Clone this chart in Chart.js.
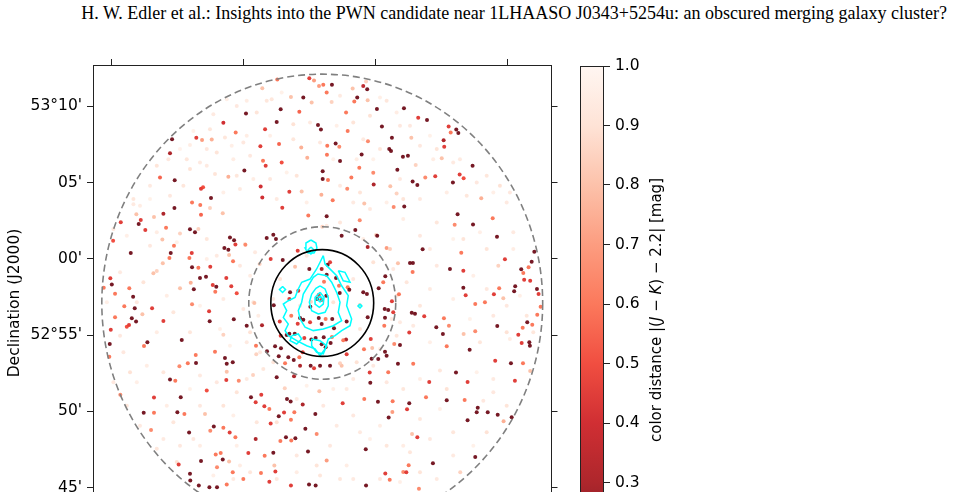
<!DOCTYPE html>
<html>
<head>
<meta charset="utf-8">
<script src="https://cdn.jsdelivr.net/npm/chart.js@4.4.0/dist/chart.umd.min.js"></script>
<style>
    html, body { margin: 0; padding: 0; width: 956px; height: 492px; overflow: hidden; background: #fff; }
    #header { position: absolute; right: 9px; top: 3px; font-family: 'Liberation Serif', 'Times New Roman', serif; font-size: 18px; white-space: nowrap; color: #000; }
    #sky { position: absolute; left: 0; top: 0; }
    #cbar { position: absolute; left: 560px; top: 0; }
    #cbar-label { position: absolute; left: 656px; top: 310px; transform: translate(-50%, -50%) rotate(-90deg); font-family: 'DejaVu Sans', sans-serif; font-size: 15px; white-space: nowrap; color: #000; }
</style>
</head>
<body>
<div id="header">H. W. Edler et al.: Insights into the PWN candidate near 1LHAASO J0343+5254u: an obscured merging galaxy cluster?</div>
<canvas id="sky" width="570" height="560"></canvas>
<canvas id="cbar" width="130" height="560"></canvas>
<div id="cbar-label">color distance |(<i>J</i> − <i>K</i>) − 2.2| [mag]</div>
<script>
// sky offsets: RA offset in arcmin (on sky), Dec in arcmin above 52°00'
const fieldCenter = [0, 57.1];
const fieldHalfWidth = 15.6;
const apertureRadii = [15, 5, 3.5]; // arcmin

const decTicks = [45, 50, 55, 60, 65, 70];
const decTickLabels = ["45'", "50'", "52°55'", "00'", "05'", "53°10'"];
const raTicks = [-14.35, -5.37, 3.61, 12.59];
const cbTicks = [0.2, 0.3, 0.4, 0.5, 0.6, 0.7, 0.8, 0.9, 1.0];
const cMin = 0.2, cMax = 1.0;

// [RA offset, Dec, colour distance]
const brightStars = [
    [-0.88,71.83,0.45],[-1.29,70.57,0.15],[-2.83,69.80,0.15],[-5.19,69.52,0.15],[-3.10,68.97,0.15],[-6.73,68.91,0.40],[-3.89,68.49,0.45],[-1.56,69.63,0.55],[-0.29,68.76,0.15],[-0.09,68.48,0.15],
    [-5.89,68.28,0.60],[-10.22,67.84,0.15],[-8.57,67.93,0.45],[-8.18,67.79,0.70],[-7.52,67.82,0.75],[-10.36,66.92,0.30],[-4.21,67.38,0.45],[-2.94,67.53,0.55],[-1.43,67.30,0.75],[0.34,67.40,0.60],
    [-4.03,66.42,0.60],[-3.85,66.09,0.45],[-2.76,66.31,0.50],[-1.02,66.62,0.75],[-5.30,65.79,0.15],[0.03,65.74,0.15],[0.03,65.22,0.15],[-11.04,65.33,0.55],[-10.04,65.14,0.15],[-8.25,64.59,0.45],
    [-8.11,64.68,0.50],[-4.19,64.74,0.40],[-2.24,64.39,0.45],[-4.08,64.02,0.40],[-7.57,63.98,0.15],[-8.86,63.69,0.60],[-8.30,63.52,0.60],[-10.06,63.32,0.15],[-2.72,63.34,0.45],[-0.06,64.19,0.75],
    [-1.40,64.41,0.80],[-2.13,70.61,0.80],[-4.08,71.18,0.80],[-3.06,71.75,0.60],[-0.56,71.68,0.70],[-0.22,71.33,0.70],[0.30,70.90,0.60],[-0.72,70.24,0.80],[-6.39,65.37,0.75],[0.32,66.81,0.60],
    [0.07,71.40,0.60],[0.66,71.40,0.15],[2.07,71.16,0.80],[2.79,71.33,0.35],[3.06,71.11,0.15],[2.98,71.62,0.85],[2.38,70.57,0.15],[2.18,70.31,0.60],[0.64,70.28,0.85],[3.09,70.39,0.80],
    [1.62,69.59,0.60],[3.72,69.82,0.15],[5.56,69.87,0.15],[6.53,69.24,0.45],[7.13,69.10,0.15],[4.06,68.67,0.15],[1.73,68.38,0.60],[8.60,68.67,0.45],[8.74,68.28,0.60],[9.12,68.48,0.15],
    [9.26,68.25,0.15],[4.74,67.93,0.15],[3.11,67.71,0.65],[6.06,67.93,0.80],[0.91,67.56,0.15],[1.16,67.34,0.65],[8.26,67.76,0.30],[8.30,67.34,0.45],[4.56,67.19,0.15],[4.68,67.07,0.15],
    [2.68,66.84,0.15],[5.49,66.68,0.15],[5.83,66.75,0.15],[1.21,66.40,0.15],[8.13,66.58,0.80],[6.36,66.14,0.85],[10.23,66.09,0.15],[5.11,65.83,0.15],[2.52,65.96,0.60],[3.47,65.63,0.65],
    [9.35,65.53,0.45],[7.69,65.40,0.45],[9.62,65.27,0.50],[7.01,65.33,0.65],[1.98,65.33,0.60],[0.39,65.17,0.60],[6.15,65.07,0.15],[8.89,65.00,0.15],[6.47,64.83,0.15],[3.50,64.87,0.30],
    [1.70,64.59,0.65],[4.63,64.76,0.80],[10.82,63.96,0.75],[0.71,63.83,0.60],[5.06,64.28,0.85],[2.86,63.63,0.80],[5.58,63.43,0.15],[4.86,63.39,0.65],
    [-7.64,63.32,0.85],[-13.71,62.40,0.45],[-12.65,62.91,0.80],[-12.35,62.54,0.45],[-12.49,62.27,0.15],[-11.45,62.73,0.80],[-10.81,62.95,0.30],[-12.04,61.88,0.45],[-10.63,62.03,0.60],[-8.25,62.88,0.55],
    [-6.77,62.99,0.80],[-9.00,61.93,0.15],[-8.66,61.73,0.15],[-8.43,61.95,0.85],[-9.68,61.66,0.85],[-6.28,61.40,0.15],[-6.00,61.21,0.15],[-5.91,60.94,0.45],[-6.66,60.70,0.15],[-6.39,60.59,0.15],
    [-6.34,60.24,0.80],[-5.23,60.92,0.65],[-14.23,61.18,0.50],[-13.03,60.37,0.15],[-10.31,60.37,0.15],[-8.88,60.37,0.45],[-10.40,60.05,0.60],[-9.04,60.05,0.60],[-6.07,59.83,0.60],[-10.85,59.70,0.80],
    [-10.09,60.85,0.60],[-10.88,61.27,0.80],[-8.86,59.44,0.15],[-8.43,59.41,0.60],[-7.62,59.48,0.45],[-11.26,59.20,0.85],[-11.49,59.05,0.80],[-7.91,58.82,0.15],[-8.32,58.74,0.15],[-6.53,58.74,0.45],
    [-8.95,58.43,0.75],[-14.42,58.72,0.45],[-14.32,58.32,0.15],[-14.87,58.10,0.60],[-13.13,58.06,0.60],[-14.10,57.71,0.60],[-12.87,57.51,0.15],[-9.68,58.06,0.80],[-8.74,58.00,0.15],[-7.45,58.28,0.45],
    [-7.21,58.17,0.15],[-7.28,57.84,0.60],[-6.19,58.19,0.45],[-5.82,57.74,0.50],[-13.47,56.88,0.60],[-12.76,56.75,0.15],[-11.58,56.75,0.45],[-12.24,56.36,0.80],[-14.10,56.16,0.60],[-12.96,56.10,0.15],
    [-12.67,55.88,0.15],[-13.15,55.66,0.45],[-13.30,55.55,0.50],[-10.81,55.92,0.45],[-8.86,57.01,0.65],[-7.70,56.56,0.45],[-7.66,55.90,0.15],[-6.02,56.03,0.15],[-5.14,55.61,0.15],[-4.10,55.64,0.30],
    [-4.62,57.10,0.80],[-14.39,55.35,0.45],[-14.46,54.41,0.15],[-11.90,54.53,0.15],[-12.13,54.28,0.60],[-9.56,54.68,0.15],[-6.73,55.02,0.85],[-3.78,61.36,0.15],[-3.33,61.57,0.15],[-3.15,61.29,0.15],
    [-0.95,62.84,0.60],[0.30,62.78,0.15],[-2.69,59.92,0.15],[-3.51,59.98,0.45],[-4.26,59.65,0.85],[-1.85,59.48,0.80],[-1.67,60.53,0.45],
    [-0.88,59.33,0.15],[0.37,59.61,0.15],[0.53,59.77,0.45],[-0.04,59.33,0.30],[0.30,58.95,0.15],[0.12,58.49,0.60],[0.94,58.74,0.15],[1.14,58.23,0.60],[1.73,58.13,0.60],[1.84,57.97,0.15],
    [1.19,57.75,0.15],[-0.24,57.62,0.45],[-0.34,57.36,0.15],[-0.06,57.30,0.45],[0.28,57.58,0.15],[-0.77,57.19,0.85],[-1.63,57.91,0.45],[-2.19,57.80,0.15],[-2.24,57.36,0.45],[-3.30,56.95,0.15],
    [-0.81,56.86,0.15],[-2.11,56.27,0.60],[-1.51,56.12,0.15],[-1.29,56.01,0.15],[-1.67,55.74,0.45],[-0.83,55.84,0.45],[-0.24,56.12,0.15],[-0.04,55.72,0.15],[0.23,56.05,0.60],[0.68,56.05,0.15],
    [1.66,55.88,0.15],[0.80,55.44,0.15],[-2.24,55.09,0.15],[-1.87,55.09,0.15],[-1.22,54.81,0.45],[-0.74,54.70,0.15],[-0.45,54.81,0.15],[0.10,54.85,0.15],[0.66,54.87,0.60],[-0.04,54.40,0.15],
    [0.23,54.20,0.15],[0.57,54.48,0.15],[1.62,54.70,0.30],[2.79,57.80,0.15],[3.04,57.69,0.15],[2.55,56.97,0.85],[3.09,56.16,0.15],[3.30,54.74,0.45],[-2.89,55.88,0.45],[-2.83,54.96,0.45],
    [-2.42,55.00,0.15],[-1.33,53.87,0.45],[-0.79,52.99,0.15],[-0.56,52.82,0.45],[-1.51,52.99,0.30],[0.53,52.99,0.15],[-0.15,52.99,0.15],[1.32,52.99,0.80],[3.81,53.43,0.15],[2.25,61.88,0.15],
    [1.32,61.51,0.15],[0.00,62.10,0.85],[3.09,60.77,0.30],[3.66,61.55,0.85],[4.38,60.70,0.70],[4.29,58.85,0.15],[4.15,58.46,0.60],[3.84,58.06,0.15],[4.25,56.71,0.15],[4.49,56.64,0.15],
    [4.83,56.49,0.45],[4.22,55.61,0.60],[4.90,54.41,0.65],[4.27,53.91,0.15],[3.40,54.15,0.80],[-4.51,54.30,0.60],[-3.21,54.26,0.15],[-2.81,54.13,0.15],[-2.31,53.54,0.15],[-2.53,53.15,0.60],
    [4.38,53.65,0.15],
    [9.21,62.91,0.15],[9.01,62.23,0.65],[10.26,62.25,0.15],[11.60,62.65,0.60],[11.89,61.44,0.15],[2.55,62.52,0.65],[3.74,61.51,0.15],[6.83,60.62,0.15],[4.61,60.64,0.85],[9.46,60.39,0.60],
    [12.43,59.96,0.45],[14.43,60.46,0.15],[14.25,59.80,0.15],[14.04,59.44,0.60],[13.54,59.31,0.15],[13.68,59.06,0.60],[5.97,59.72,0.15],[6.17,59.72,0.15],[6.15,59.13,0.60],[5.15,59.70,0.80],
    [8.69,59.33,0.15],[9.60,59.22,0.45],[11.98,59.54,0.85],[13.74,58.63,0.45],[14.15,58.56,0.45],[13.13,58.19,0.15],[13.06,57.87,0.15],[14.61,58.02,0.15],[14.72,57.69,0.45],[12.04,58.06,0.60],
    [11.68,57.67,0.45],[9.60,58.10,0.15],[9.76,57.60,0.45],[12.32,57.41,0.80],[5.22,57.67,0.60],[4.74,57.21,0.45],[4.27,56.14,0.15],[6.09,56.46,0.15],[6.31,56.40,0.15],[6.94,56.23,0.45],
    [10.41,57.03,0.60],[11.07,57.15,0.60],[14.86,56.86,0.60],[14.63,56.33,0.60],[7.76,55.51,0.15],[8.28,56.10,0.60],[8.62,55.61,0.65],[5.92,55.16,0.45],[8.21,55.07,0.15],[9.62,55.07,0.80],
    [10.41,55.25,0.65],[11.91,55.59,0.15],[13.64,55.48,0.60],[13.95,55.84,0.15],[14.29,55.68,0.60],[13.34,55.02,0.45],[13.57,54.48,0.45],[14.09,54.53,0.15],[14.13,54.30,0.15],[5.29,54.35,0.15],
    [8.47,54.26,0.60],
    [-14.49,53.58,0.60],[-8.61,53.69,0.60],[-7.30,53.91,0.60],[-9.15,53.15,0.60],[-8.59,53.17,0.15],[-9.72,52.95,0.65],[-6.62,53.50,0.15],[-6.50,53.11,0.15],[-6.09,53.22,0.15],[-6.50,52.60,0.80],
    [-6.53,52.06,0.45],[-5.68,52.01,0.65],[-10.36,52.08,0.15],[-10.00,52.01,0.60],[-7.86,51.36,0.50],[-11.45,50.90,0.45],[-9.63,50.92,0.15],[-13.74,51.09,0.65],[-12.15,49.90,0.15],[-11.45,49.90,0.60],
    [-9.86,49.94,0.15],[-9.38,49.83,0.60],[-7.98,49.83,0.80],[-11.65,48.78,0.65],[-9.06,48.61,0.15],[-7.38,49.00,0.15],[-6.73,48.93,0.60],[-6.30,48.61,0.45],[-5.91,48.30,0.60],[-7.62,48.72,0.65],
    [-9.77,46.51,0.45],[-8.25,46.75,0.15],[-9.00,45.90,0.15],[-8.98,45.46,0.15],[-7.25,47.17,0.60],[-6.77,46.84,0.15],[-6.91,47.26,0.60],[-7.16,46.34,0.65],[-6.34,46.71,0.80],[-6.09,46.01,0.60],
    [-8.40,45.14,0.15],[-7.68,45.03,0.15],[-7.16,45.03,0.15],[-6.50,45.20,0.60],[-5.37,45.57,0.60],[-5.03,47.26,0.45],[-4.53,48.19,0.30],[-4.85,50.92,0.15],[-4.53,50.60,0.45],[-4.15,51.08,0.45],
    [-3.94,50.34,0.45],[-3.60,50.16,0.60],[-2.96,49.68,0.15],[-2.60,49.92,0.45],[-2.40,50.81,0.15],[-2.15,50.64,0.15],[-1.90,49.94,0.60],[-1.33,50.44,0.30],[-0.47,49.83,0.15],[-3.51,49.20,0.45],
    [-2.13,49.44,0.60],[-1.15,48.85,0.15],[-0.38,48.52,0.65],[-2.47,48.30,0.15],[-2.11,48.08,0.60],[-1.83,48.24,0.15],[-2.85,48.06,0.60],[-3.92,47.08,0.60],[-3.33,47.28,0.15],[-4.17,45.95,0.60],
    [-3.26,46.45,0.80],[-3.19,46.05,0.45],[-3.60,45.38,0.45],[-0.97,47.36,0.15],[0.30,46.77,0.70],[-2.13,45.14,0.45],[-0.90,45.20,0.15],[-0.45,45.14,0.15],[-2.96,53.61,0.15],[-1.94,53.37,0.15],
    [-3.76,53.94,0.15],[-3.10,52.23,0.15],[-1.92,52.30,0.30],[-1.56,53.54,0.60],[-0.20,51.32,0.80],[-4.49,53.74,0.85],[-4.71,52.38,0.85],[-2.55,51.51,0.85],
    [1.43,54.66,0.60],[1.66,53.74,0.45],[2.84,54.07,0.60],[3.36,53.45,0.15],[10.03,54.04,0.15],[5.15,53.11,0.15],[6.19,53.11,0.60],[3.23,52.54,0.45],[3.27,51.88,0.15],[4.49,52.56,0.60],
    [1.21,53.15,0.85],[9.10,52.54,0.15],[7.28,51.93,0.45],[9.89,51.93,0.45],[11.77,53.32,0.45],[12.84,53.15,0.15],[13.66,53.15,0.60],[14.15,52.65,0.80],[13.11,52.01,0.45],[1.39,50.53,0.45],
    [2.86,50.81,0.60],[3.79,50.62,0.15],[4.79,50.66,0.60],[5.92,50.53,0.15],[5.77,50.14,0.45],[4.77,49.96,0.70],[4.52,49.59,0.15],[7.06,50.92,0.60],[8.47,50.73,0.15],[9.69,50.75,0.60],
    [10.58,50.24,0.15],[10.51,49.94,0.15],[11.26,49.94,0.15],[11.94,49.77,0.15],[12.89,49.61,0.15],[12.34,49.35,0.75],[9.89,49.42,0.15],[6.47,48.30,0.45],[6.11,48.52,0.80],[2.96,47.52,0.15],
    [10.41,47.00,0.15],[7.53,46.60,0.15],[5.88,46.47,0.60],[4.29,45.92,0.45],[5.51,46.03,0.65],[5.72,46.01,0.45],[4.59,45.51,0.60],[6.58,44.92,0.65],[2.98,45.14,0.15],[9.39,46.01,0.85]
];

// stars with colour distance close to 1 (very pale)
const faintStars = [
    [-5.14,70.35,0.95],[-3.44,70.46,0.92],[-2.76,70.90,0.97],[-5.82,70.02,0.93],[-6.50,70.46,0.96],[-4.46,69.59,0.91],[-7.41,69.48,0.94],[-8.77,68.38,0.97],[-6.62,67.95,0.92],[-9.00,67.45,0.95],
    [-7.86,67.19,0.93],[-6.16,67.40,0.96],[-9.68,67.19,0.98],[-9.22,66.53,0.92],[-8.32,66.31,0.94],[-7.30,65.55,0.91],[-6.05,66.53,0.95],[-4.91,66.75,0.93],[-3.55,68.06,0.96],[-1.97,67.84,0.92],
    [-0.83,68.93,0.94],[-2.42,65.66,0.97],[-3.55,65.22,0.93],[-4.69,65.22,0.95],[-1.74,65.44,0.91],[-5.60,64.57,0.94],[-6.73,64.35,0.96],[-10.36,64.13,0.93],[-11.72,63.91,0.97],[-12.40,63.47,0.95],
    [-9.45,64.78,0.92],[-3.10,63.91,0.94],[-1.06,63.69,0.96],[-0.15,67.62,0.93],[-5.14,68.06,0.95],[-7.64,68.49,0.92],
    [1.21,70.68,0.94],[3.93,70.57,0.96],[4.38,70.35,0.92],[5.06,69.59,0.95],[5.97,68.71,0.93],[7.33,68.06,0.97],[2.11,68.93,0.91],[2.79,67.84,0.94],[0.98,68.71,0.96],[6.65,67.40,0.93],
    [7.55,66.53,0.95],[3.93,67.19,0.92],[3.47,66.53,0.97],[8.91,66.31,0.94],[10.51,65.00,0.93],[11.64,64.35,0.96],[12.55,63.69,0.94],[9.83,64.13,0.92],[8.47,64.35,0.95],[6.65,63.91,0.93],
    [4.38,63.69,0.96],[2.57,64.35,0.91],[1.21,64.78,0.94],[0.75,66.53,0.97],[5.29,65.22,0.93],[2.34,66.53,0.95],
    [-12.85,63.58,0.94],[-14.21,61.95,0.92],[-13.30,61.51,0.96],[-11.72,60.85,0.93],[-11.26,61.73,0.95],[-9.90,61.08,0.97],[-7.86,61.29,0.92],[-7.18,60.20,0.94],[-7.86,59.98,0.96],[-5.60,59.54,0.93],
    [-4.91,58.89,0.95],[-12.17,58.46,0.91],[-13.76,59.11,0.94],[-14.66,57.15,0.96],[-12.62,57.15,0.93],[-10.58,57.58,0.95],[-10.13,56.49,0.92],[-8.32,56.92,0.97],[-6.73,57.36,0.94],[-5.37,56.71,0.93],
    [-6.96,55.40,0.96],[-9.00,55.18,0.92],[-11.26,55.18,0.95],[-13.76,54.96,0.93],[-5.14,54.53,0.94],[-6.28,54.30,0.97],
    [3.25,63.26,0.93],[5.51,62.60,0.95],[7.79,62.38,0.92],[10.73,61.73,0.96],[13.00,61.73,0.94],[6.65,61.51,0.93],[8.91,61.29,0.97],[11.19,60.64,0.91],[13.00,60.64,0.95],[7.79,59.54,0.93],
    [10.28,58.89,0.96],[5.74,58.46,0.92],[7.33,58.02,0.94],[8.91,57.36,0.95],[12.55,56.92,0.93],[13.45,57.58,0.96],[6.65,56.92,0.92],[5.29,55.84,0.94],[10.05,56.05,0.97],[11.64,56.27,0.93],
    [12.77,54.74,0.95],[10.73,54.53,0.92],[7.33,54.53,0.96],[6.19,55.61,0.94],
    [-13.53,53.87,0.93],[-11.94,52.99,0.95],[-10.81,52.56,0.92],[-12.62,51.91,0.96],[-8.32,52.34,0.94],[-7.18,51.91,0.93],[-9.00,51.47,0.97],[-5.82,51.25,0.91],[-10.58,50.37,0.95],[-8.32,50.37,0.93],
    [-6.05,49.72,0.96],[-10.13,49.29,0.92],[-10.81,48.19,0.94],[-8.32,47.75,0.95],[-9.68,47.75,0.93],[-5.82,47.75,0.96],[-4.46,49.29,0.92],[-1.74,50.81,0.94],[-1.06,51.68,0.97],[0.07,50.37,0.93],
    [-5.60,46.45,0.95],[-4.91,46.01,0.92],[-7.41,45.79,0.96],[-6.05,45.57,0.94],[-3.10,45.57,0.93],[-1.74,46.01,0.95],[-0.15,45.79,0.92],
    [2.11,52.12,0.94],[0.75,51.47,0.96],[4.38,51.91,0.93],[6.65,52.12,0.95],[8.01,52.67,0.92],[10.51,52.56,0.97],[11.64,52.12,0.94],[10.96,50.70,0.93],[8.01,50.16,0.96],[6.65,49.50,0.92],
    [3.93,49.06,0.95],[2.11,49.72,0.93],[0.98,49.06,0.94],[3.25,48.19,0.96],[4.38,47.75,0.92],[5.51,47.75,0.95],[7.33,48.19,0.93],[10.28,47.75,0.97],[8.91,47.10,0.94],[5.97,47.32,0.92],
    [1.66,46.45,0.95],[3.93,45.57,0.93],[5.29,45.36,0.96],[7.79,45.57,0.94],[1.21,45.57,0.92],
    [-5.26,60.96,0.91],[-4.57,60.42,0.94],[-4.69,57.15,0.92],[-4.35,56.27,0.95],[-4.91,55.18,0.90],[-4.23,53.87,0.93],[-3.33,53.22,0.91],[0.30,62.16,0.94],[1.21,62.38,0.92],[2.79,61.29,0.95],
    [3.47,59.77,0.90],[4.83,59.33,0.93],[5.06,57.58,0.91],[4.72,56.05,0.94],[5.06,54.96,0.92],[3.93,54.09,0.95],[2.34,53.22,0.90],[3.47,52.99,0.93],[-2.87,58.67,0.91],[-3.33,57.36,0.94],
    [-1.51,56.92,0.92],[0.75,57.15,0.90],[2.11,58.67,0.93],[2.57,55.40,0.91],[-1.06,60.20,0.94],
    [-3.78,70.35,0.92],[-1.97,68.82,0.90],[-5.37,67.62,0.93],[-7.18,66.97,0.91],[-7.86,66.09,0.94],[-5.82,65.44,0.92],[-9.00,65.88,0.90],[-10.47,66.53,0.93],[-11.26,66.09,0.91],[-11.72,64.78,0.94],
    [-12.85,63.91,0.92],[3.25,69.37,0.90],[5.29,68.71,0.93],[7.79,67.19,0.91],[9.37,66.53,0.94],[11.19,65.44,0.92],[12.09,64.78,0.90],[12.77,64.35,0.93],[5.51,63.91,0.91],[2.11,63.69,0.94],
    [13.91,56.27,0.92],[12.55,55.18,0.90],[11.19,58.02,0.93],[9.60,61.29,0.91],[7.33,60.64,0.94],[14.36,55.18,0.92],
    [-13.08,52.56,0.90],[-14.21,51.91,0.93],[-13.30,50.37,0.91],[-12.40,49.06,0.94],[-11.26,47.54,0.92],[-9.90,46.67,0.90],[-8.77,48.19,0.93],[-6.73,50.37,0.91],[-5.14,52.12,0.94],[-4.01,52.78,0.92],
    [-3.10,49.29,0.90],[-1.74,47.10,0.93],[-0.38,46.45,0.91],
    [1.66,51.47,0.94],[5.51,51.47,0.92],[8.47,51.47,0.90],[11.64,51.25,0.93],[12.55,50.37,0.91],[2.57,48.63,0.94],[8.91,48.63,0.92],[11.19,48.63,0.90],[0.53,47.75,0.93],[6.65,46.01,0.91],
    [2.11,45.57,0.94]
];

// X-ray contour levels (outermost first), plus small knots
const contour1 = [[0.07,60.20],[0.19,59.65],[0.64,59.22],[0.98,58.89],[1.32,58.23],[1.77,57.58],[1.66,56.92],[2.00,56.05],[1.89,55.61],[1.32,55.29],[0.87,54.96],[0.41,54.74],[0.19,54.09],[-0.15,53.65],[-0.49,54.09],[-1.06,54.30],[-1.74,54.63],[-2.31,54.96],[-2.53,55.29],[-2.31,55.72],[-2.65,56.16],[-2.42,56.60],[-2.65,57.03],[-2.31,57.25],[-1.85,57.47],[-1.63,58.02],[-1.40,58.46],[-0.83,58.67],[-0.38,59.33],[-0.15,59.77]];
const contour2 = [[0.30,58.89],[0.64,58.46],[0.98,57.80],[1.21,57.15],[1.09,56.49],[1.32,55.94],[0.75,55.61],[0.07,55.40],[-0.61,55.29],[-1.17,55.51],[-1.51,56.05],[-1.63,56.60],[-1.40,57.15],[-1.29,57.69],[-0.95,58.23],[-0.61,58.78],[-0.29,59.00]];
const contour3 = [[-0.15,58.23],[0.19,58.02],[0.41,57.47],[0.41,56.92],[0.19,56.49],[-0.27,56.38],[-0.72,56.60],[-0.88,57.15],[-0.72,57.69],[-0.43,58.06]];
const contour4 = [[-0.15,57.80],[0.12,57.47],[0.07,57.03],[-0.20,56.82],[-0.49,57.03],[-0.49,57.47]];
const contour5 = [[-0.15,57.56],[0.05,57.36],[-0.15,57.17],[-0.36,57.36]];
const lobeSouthWest = [[-2.08,54.96],[-1.63,55.07],[-1.40,54.74],[-1.74,54.41],[-2.19,54.63]];
const lobeSouth = [[-0.72,54.74],[-0.15,54.63],[0.30,54.30],[0.07,53.76],[-0.38,53.87],[-0.72,54.30]];
const lobeEast = [[1.09,59.22],[1.55,59.11],[1.89,58.46],[1.43,58.56]];
const knotNorthOuter = [[-0.77,61.23],[-0.43,61.03],[-0.36,60.70],[-0.56,60.37],[-0.97,60.37],[-1.17,60.70],[-1.11,61.03]];
const knotNorthInner = [[-0.77,60.77],[-0.56,60.57],[-0.77,60.31],[-0.97,60.57]];
const knotWest = [[-2.70,58.18],[-2.50,57.98],[-2.70,57.79],[-2.91,57.98]];
const knotEast = [[2.57,57.03],[2.70,56.90],[2.57,56.77],[2.43,56.90]];
const contours = [contour1, contour2, contour3, contour4, contour5, lobeSouthWest, lobeSouth, lobeEast, knotNorthOuter, knotNorthInner, knotWest, knotEast];

const reds = ['#fff5f0', '#fee0d2', '#fcbba1', '#fc9272', '#fb6a4a', '#ef3b2c', '#cb181d', '#a50f15', '#67000d'];
const cmapAlpha = 0.9;

function hexToRgb(h) {
    return [parseInt(h.slice(1, 3), 16), parseInt(h.slice(3, 5), 16), parseInt(h.slice(5, 7), 16)];
}

// reversed Reds colormap, clipped to [cMin, cMax]
function colorFor(v) {
    let t = 1 - (v - cMin) / (cMax - cMin);
    t = Math.min(1, Math.max(0, t)) * (reds.length - 1);
    const i = Math.min(reds.length - 2, Math.floor(t));
    const f = t - i;
    const a = hexToRgb(reds[i]), b = hexToRgb(reds[i + 1]);
    const c = a.map((ch, k) => Math.round(ch + (b[k] - ch) * f));
    return `rgba(${c[0]},${c[1]},${c[2]},${cmapAlpha})`;
}

const apertures = {
    id: 'apertures',
    afterDatasetsDraw(chart) {
        const { ctx, chartArea, scales: { x, y } } = chart;
        const cx = x.getPixelForValue(fieldCenter[0]);
        const cy = y.getPixelForValue(fieldCenter[1]);
        ctx.save();
        ctx.beginPath();
        ctx.rect(chartArea.left, chartArea.top, chartArea.right - chartArea.left, chartArea.bottom - chartArea.top);
        ctx.clip();
        apertureRadii.forEach((r, i) => {
            const rx = Math.abs(x.getPixelForValue(fieldCenter[0] + r) - cx);
            const ry = Math.abs(y.getPixelForValue(fieldCenter[1] + r) - cy);
            const solid = i === apertureRadii.length - 1;
            ctx.beginPath();
            ctx.ellipse(cx, cy, rx, ry, 0, 0, 2 * Math.PI);
            ctx.lineWidth = 1.6;
            ctx.strokeStyle = solid ? '#000' : '#808080';
            ctx.setLineDash(solid ? [] : [7, 4]);
            ctx.stroke();
        });
        ctx.restore();
    }
};

const colorbarFill = {
    id: 'colorbarFill',
    beforeDatasetsDraw(chart) {
        const { ctx, chartArea: a, scales: { y } } = chart;
        const yLow = y.getPixelForValue(cMin), yHigh = y.getPixelForValue(cMax);
        const grad = ctx.createLinearGradient(0, yLow, 0, yHigh);
        reds.forEach((col, k) => {
            const rgb = hexToRgb(reds[reds.length - 1 - k]);
            grad.addColorStop(k / (reds.length - 1), `rgba(${rgb[0]},${rgb[1]},${rgb[2]},${cmapAlpha})`);
        });
        ctx.save();
        ctx.fillStyle = grad;
        ctx.fillRect(a.left, yHigh, a.right - a.left, yLow - yHigh);
        ctx.strokeStyle = '#222';
        ctx.lineWidth = 1;
        ctx.strokeRect(a.left + 0.5, yHigh + 0.5, a.right - a.left - 1, yLow - yHigh - 1);
        ctx.restore();
    }
};

document.addEventListener('DOMContentLoaded', () => {
    const tickFont = { family: "'DejaVu Sans', sans-serif", size: 15.5 };
    const frame = { display: true, color: '#222', width: 1 };
    const tickGrid = { drawOnChartArea: false, drawTicks: true, tickLength: 6, color: '#222' };

    const contourSets = contours.map(c => ({
        data: c.concat([c[0]]).map(p => ({ x: p[0], y: p[1] })),
        showLine: true,
        borderColor: '#00ffff',
        borderWidth: 1.5,
        pointRadius: 0,
        fill: false,
        xAxisID: 'x',
        yAxisID: 'y'
    }));

    const starSet = (rows) => ({
        data: rows.map(s => ({ x: s[0], y: s[1] })),
        backgroundColor: rows.map(s => colorFor(s[2])),
        borderWidth: 0,
        pointRadius: 2.0,
        xAxisID: 'x',
        yAxisID: 'y'
    });

    const skyCanvas = document.getElementById('sky');
    try {
        new Chart(skyCanvas, {
            type: 'scatter',
            data: { datasets: [...contourSets, starSet(brightStars), starSet(faintStars)] },
            options: {
                responsive: false,
                animation: false,
                devicePixelRatio: 1,
                layout: { padding: { left: 0, top: 0, right: 0, bottom: 19 } },
                plugins: { legend: { display: false }, tooltip: { enabled: false } },
                scales: {
                    x: {
                        type: 'linear',
                        position: 'top',
                        min: fieldCenter[0] - fieldHalfWidth,
                        max: fieldCenter[0] + fieldHalfWidth,
                        afterFit: s => { s.height = 65; },
                        afterBuildTicks: s => { s.ticks = raTicks.map(v => ({ value: v })); },
                        ticks: { display: false },
                        grid: tickGrid,
                        border: frame
                    },
                    y: {
                        type: 'linear',
                        position: 'left',
                        min: fieldCenter[1] - fieldHalfWidth,
                        max: fieldCenter[1] + fieldHalfWidth,
                        afterFit: s => { s.width = 93; },
                        afterBuildTicks: s => { s.ticks = decTicks.map(v => ({ value: v })); },
                        ticks: {
                            font: tickFont,
                            color: '#000',
                            padding: 5,
                            callback: v => decTickLabels[decTicks.indexOf(v)]
                        },
                        title: {
                            display: true,
                            text: 'Declination (J2000)',
                            font: tickFont,
                            color: '#000',
                            padding: { top: 6, bottom: 0 }
                        },
                        grid: tickGrid,
                        border: frame
                    },
                    y2: {
                        type: 'linear',
                        position: 'right',
                        min: fieldCenter[1] - fieldHalfWidth,
                        max: fieldCenter[1] + fieldHalfWidth,
                        afterFit: s => { s.width = 18.5; },
                        afterBuildTicks: s => { s.ticks = decTicks.map(v => ({ value: v })); },
                        ticks: { display: false },
                        grid: tickGrid,
                        border: frame
                    }
                }
            },
            plugins: [apertures]
        });
    } catch (e) {
        console.error('Error rendering sky chart:', e);
    }

    const cbarCanvas = document.getElementById('cbar');
    try {
        new Chart(cbarCanvas, {
            type: 'scatter',
            data: { datasets: [] },
            options: {
                responsive: false,
                animation: false,
                devicePixelRatio: 1,
                layout: { padding: { left: 20, top: 66, right: 0, bottom: 18 } },
                plugins: { legend: { display: false }, tooltip: { enabled: false } },
                scales: {
                    x: { display: false },
                    y: {
                        type: 'linear',
                        position: 'right',
                        min: cMin,
                        max: cMax,
                        afterFit: s => { s.width = 86; },
                        afterBuildTicks: s => { s.ticks = cbTicks.map(v => ({ value: v })); },
                        ticks: { font: tickFont, color: '#000', padding: 5, callback: v => v.toFixed(1) },
                        grid: tickGrid,
                        border: { display: false }
                    }
                }
            },
            plugins: [colorbarFill]
        });
    } catch (e) {
        console.error('Error rendering colorbar:', e);
    }
});
</script>
</body>
</html>
